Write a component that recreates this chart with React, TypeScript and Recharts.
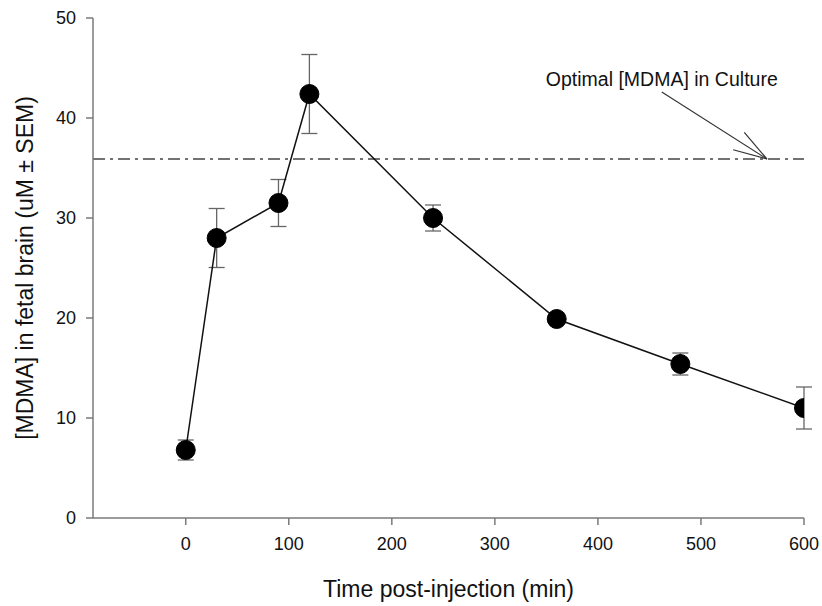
import { ComposedChart, Line, XAxis, YAxis, ErrorBar, ReferenceLine } from 'recharts';

const times = [0, 30, 90, 120, 240, 360, 480, 600];
const conc = [6.8, 28.0, 31.5, 42.4, 30.0, 19.9, 15.4, 11.0];
const sem = [1.0, 2.95, 2.35, 3.95, 1.3, 0.3, 1.1, 2.1];
const xTicks = [0, 100, 200, 300, 400, 500, 600];
const yTicks = [0, 10, 20, 30, 40, 50];
const optimalConc = 35.9;
const noteText = 'Optimal [MDMA] in Culture';
const arrowStart = { x: 462, y: 42.6 };
const arrowEnd = { x: 564, y: optimalConc };

const data = times.map((t, i) => ({ t, conc: conc[i], sem: sem[i] }));

const font = '"Liberation Sans", Arial, sans-serif';
const axisGray = '#7a7a7a';

function Arrow(props: any) {
  const { x1, y1, x2, y2 } = props;
  const ang = Math.atan2(y2 - y1, x2 - x1);
  const len = 35;
  const spread = 0.3;
  const head = [ang - spread, ang + spread].map((a) => ({
    x: x2 - len * Math.cos(a),
    y: y2 - len * Math.sin(a),
  }));
  return (
    <g>
      <line x1={x1} y1={y1} x2={x2} y2={y2} stroke="#333" strokeWidth={1.2} />
      {head.map((p, i) => (
        <line key={i} x1={p.x} y1={p.y} x2={x2} y2={y2} stroke="#333" strokeWidth={1.2} />
      ))}
      <text x={x1} y={y1 - 6} textAnchor="middle" fontSize={19.5} fontFamily={font} fill="#111">
        {noteText}
      </text>
    </g>
  );
}

export default function App() {
  return (
    <div style={{ position: 'absolute', left: 0, top: 0, background: '#fff' }}>
      <ComposedChart
        width={822}
        height={606}
        data={data}
        margin={{ top: 18, right: 18, left: 0, bottom: 0 }}
      >
        <XAxis
          type="number"
          dataKey="t"
          domain={[-90, 600]}
          ticks={xTicks}
          allowDataOverflow
          height={88}
          tickSize={7}
          tickMargin={12}
          axisLine={{ stroke: axisGray, strokeWidth: 1.5 }}
          tickLine={{ stroke: axisGray, strokeWidth: 1.5 }}
          tick={{ fill: '#111', fontSize: 18, fontFamily: font }}
          label={{
            value: 'Time post-injection (min)',
            position: 'insideBottom',
            offset: 9,
            style: { fill: '#111', fontSize: 23, fontFamily: font },
          }}
        />
        <YAxis
          type="number"
          domain={[0, 50]}
          ticks={yTicks}
          width={93}
          tickSize={7}
          tickMargin={10}
          axisLine={{ stroke: axisGray, strokeWidth: 1.5 }}
          tickLine={{ stroke: axisGray, strokeWidth: 1.5 }}
          tick={{ fill: '#111', fontSize: 18, fontFamily: font }}
          label={{
            value: '[MDMA] in fetal brain (uM ± SEM)',
            angle: -90,
            position: 'insideLeft',
            offset: 25,
            style: { fill: '#111', fontSize: 23, fontFamily: font, textAnchor: 'middle' },
          }}
        />
        <ReferenceLine
          y={optimalConc}
          stroke="#444"
          strokeWidth={1.5}
          strokeDasharray="12 5 3 5"
        />
        <ReferenceLine
          segment={[arrowStart, arrowEnd]}
          shape={Arrow}
          ifOverflow="visible"
        />
        {/* error bars drawn first so the markers sit on top of them */}
        <Line
          dataKey="conc"
          stroke="none"
          isAnimationActive={false}
          dot={false}
          activeDot={false}
          legendType="none"
        >
          <ErrorBar dataKey="sem" direction="y" width={8} stroke="#666" strokeWidth={1.3} />
        </Line>
        <Line
          dataKey="conc"
          stroke="#111"
          strokeWidth={1.5}
          isAnimationActive={false}
          dot={{ r: 9.5, fill: '#000', stroke: '#000', strokeWidth: 1 }}
          activeDot={false}
        />
      </ComposedChart>
    </div>
  );
}
